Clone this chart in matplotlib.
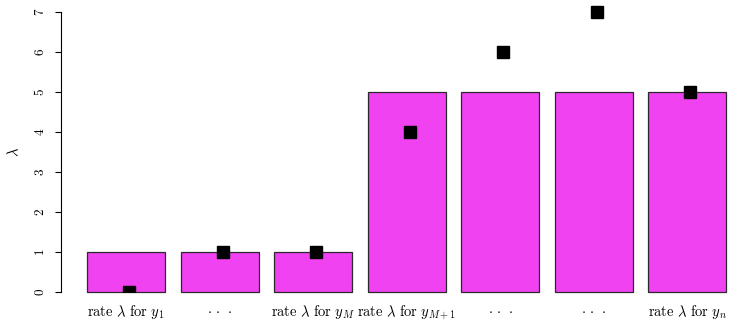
import matplotlib
matplotlib.use("Agg")
import matplotlib.pyplot as plt
import matplotlib.transforms as mtransforms
from matplotlib.patches import Rectangle

plt.rcParams["mathtext.fontset"] = "cm"
plt.rcParams["font.family"] = ["cmr10", "DejaVu Serif"]
plt.rcParams["axes.formatter.use_mathtext"] = True

# Rates per observation and observed counts
categories = [r"$\mathrm{rate}\ \lambda\ \mathrm{for}\ y_1$", r"$\cdot\,\cdot\,\cdot$",
              r"$\mathrm{rate}\ \lambda\ \mathrm{for}\ y_M$",
              r"$\mathrm{rate}\ \lambda\ \mathrm{for}\ y_{M+1}$",
              r"$\cdot\,\cdot\,\cdot$", r"$\cdot\,\cdot\,\cdot$",
              r"$\mathrm{rate}\ \lambda\ \mathrm{for}\ y_n$"]
rates = [1, 1, 1, 5, 5, 5, 5]
observed = [0, 1, 1, 4, 6, 7, 5]
yticks = [0, 1, 2, 3, 4, 5, 6, 7]

W, H = 729, 321
fig = plt.figure(figsize=(W / 100, H / 100), dpi=100)
left, right, bottom, top = 61.4, 752.0, 17.8, 320.2
ax = fig.add_axes([left / W, bottom / H, (right - left) / W, (top - bottom) / H])

# barplot-style positions: width 1, space 0.2
centers = [0.2 + 1.2 * i + 0.5 for i in range(len(rates))]
ax.bar(centers, rates, width=1.0, color="#F042F0", edgecolor="#2a2a2a",
       linewidth=0.9, zorder=2)

# observed counts drawn as filled squares, nudged slightly right
shift = mtransforms.ScaledTranslation(0.03, 0, fig.dpi_scale_trans)
pts, = ax.plot(centers, observed, linestyle="none", marker="s",
               markersize=8, color="black", zorder=3,
               transform=ax.transData + shift)
clip = Rectangle((-1, 0), 20, 10, transform=ax.transData)
pts.set_clip_path(clip)

ax.set_xlim(-0.128, 8.728)
ax.set_ylim(-0.28, 7.28)

ax.set_xticks(centers)
ax.set_xticklabels(categories, fontsize=10.5)
ax.tick_params(axis="x", length=0, pad=0)

ax.set_yticks(yticks)
ax.set_yticklabels([f"${v}$" for v in yticks], rotation=90, va="center",
                   fontsize=9.5)
ax.tick_params(axis="y", length=4.5, width=0.8, pad=6)
ax.set_ylabel(r"$\lambda$", fontsize=10.5, labelpad=8)

for s in ["top", "right", "bottom"]:
    ax.spines[s].set_visible(False)
ax.spines["left"].set_bounds(0, 7)
ax.spines["left"].set_linewidth(0.8)

fig.savefig("out.png", dpi=100)
